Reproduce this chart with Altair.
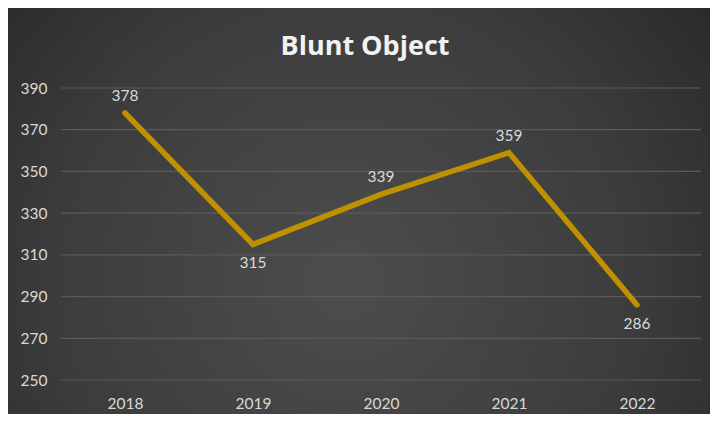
import altair as alt
import pandas as pd

years = ["2018", "2019", "2020", "2021", "2022"]
values = [378, 315, 339, 359, 286]
label_pos = ["above", "below", "above", "above", "below"]
y_ticks = [250, 270, 290, 310, 330, 350, 370, 390]
title_text = "Blunt Object"

df = pd.DataFrame({"year": years, "value": values, "pos": label_pos})
grid_df = pd.DataFrame({"tick": y_ticks})

W, H = 640, 292
PL, PT, PR, PB = 53, 80, 9, 34
FONT = "Lato"

x_scale = alt.Scale(domain=years, paddingInner=0, paddingOuter=0)
y_scale = alt.Scale(domain=[250, 390], nice=False, zero=False)

bg = alt.Chart(alt.Data(values=[{"a": 1}])).mark_rect(
    fill=alt.RadialGradient(
        gradient="radial",
        x1=0.48, y1=0.6, r1=0.0,
        x2=0.48, y2=0.6, r2=0.75,
        stops=[
            alt.GradientStop(offset=0, color="#4d4d4d"),
            alt.GradientStop(offset=0.55, color="#3c3c3c"),
            alt.GradientStop(offset=1, color="#232323"),
        ],
    ),
).encode(
    x=alt.value(-PL), x2=alt.value(W + PR),
    y=alt.value(-PT), y2=alt.value(H + PB),
)

grid = alt.Chart(grid_df).mark_rule(color="#5a5a5a", strokeWidth=1.2).encode(
    y=alt.Y("tick:Q", scale=y_scale,
            axis=alt.Axis(values=y_ticks, grid=False, ticks=False, domain=False,
                          labelColor="#d9d9d9", labelFont=FONT, labelFontSize=15.5,
                          labelPadding=14, title=None, zindex=2)),
    x=alt.value(0), x2=alt.value(W),
)

base = alt.Chart(df)

line = base.mark_line(color="#bf9000", strokeWidth=5.5, strokeCap="round", strokeJoin="miter").encode(
    x=alt.X("year:N", scale=x_scale, sort=years,
            axis=alt.Axis(labelAngle=0, ticks=False, domain=False, grid=False,
                          labelColor="#d9d9d9", labelFont=FONT, labelFontSize=15.5,
                          labelPadding=16, title=None, bandPosition=0.5, zindex=2)),
    y=alt.Y("value:Q", scale=y_scale),
)

labels_above = base.transform_filter(alt.datum.pos == "above").mark_text(
    color="#d9d9d9", font=FONT, fontSize=15.5, dy=-17
).encode(
    x=alt.X("year:N", scale=x_scale, sort=years),
    y=alt.Y("value:Q", scale=y_scale),
    text="value:Q",
)

labels_below = base.transform_filter(alt.datum.pos == "below").mark_text(
    color="#d9d9d9", font=FONT, fontSize=15.5, dy=19
).encode(
    x=alt.X("year:N", scale=x_scale, sort=years),
    y=alt.Y("value:Q", scale=y_scale),
    text="value:Q",
)

chart = alt.layer(bg, grid, line, labels_above, labels_below).properties(
    width=W, height=H,
    padding={"left": PL, "top": PT, "right": PR, "bottom": PB},
    autosize=alt.AutoSizeParams(type="none"),
    background="#2b2b2b",
    title=alt.TitleParams(
        title_text, color="#f2f2f2", font="Open Sans", fontSize=27, fontWeight="bold",
        anchor="middle", offset=-53, dx=-16, frame="group", zindex=2,
    ),
).configure_view(stroke=None)

chart.save("out.html", embed_options={"renderer": "svg", "actions": False})
